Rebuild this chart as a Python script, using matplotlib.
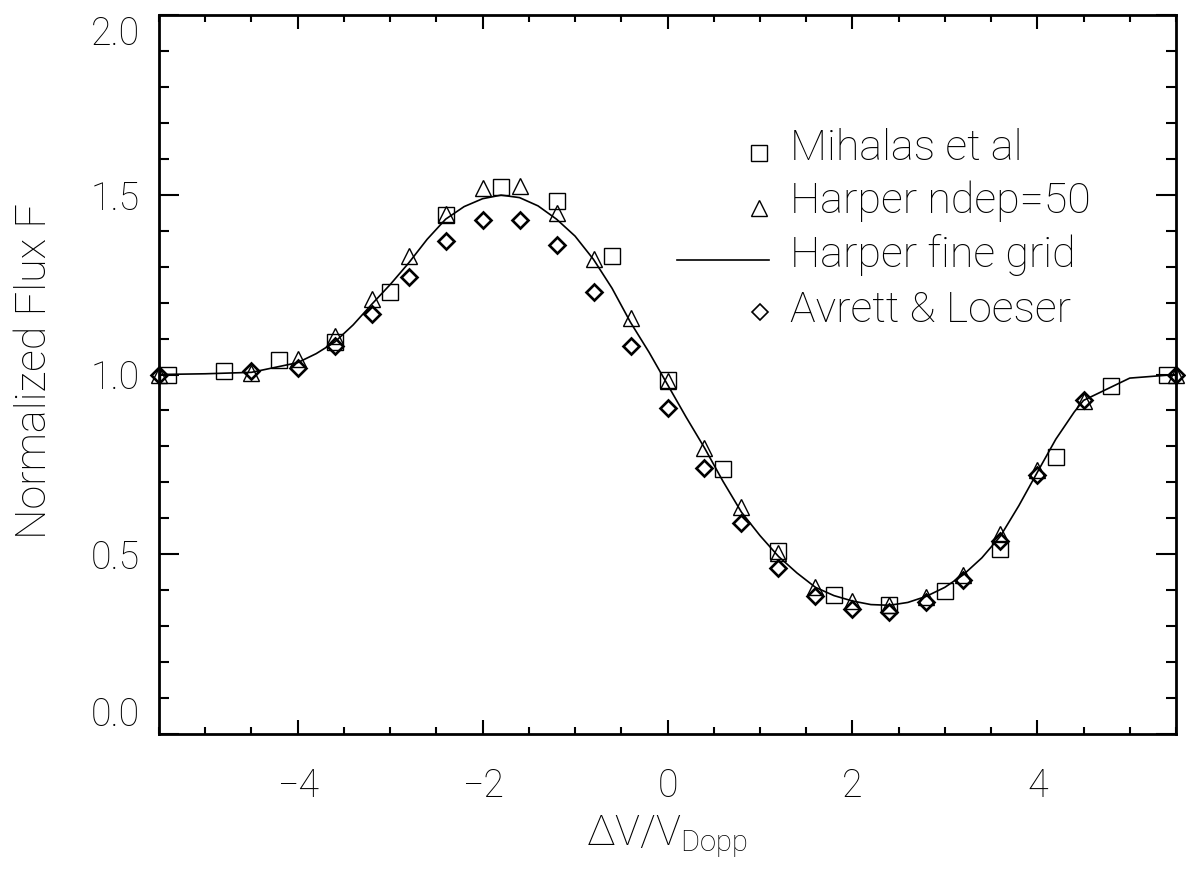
import matplotlib
matplotlib.use("Agg")
import matplotlib.pyplot as plt
from matplotlib.ticker import MultipleLocator

# Mihalas et al (squares)
mihalas_x = [-5.4, -4.8, -4.2, -3.6, -3.0, -2.4, -1.8, -1.2, -0.6, 0.0,
             0.6, 1.2, 1.8, 2.4, 3.0, 3.6, 4.2, 4.8, 5.4]
mihalas_f = [1.000, 1.009, 1.040, 1.090, 1.230, 1.443, 1.522, 1.483, 1.330, 0.986,
             0.738, 0.508, 0.387, 0.359, 0.398, 0.515, 0.770, 0.969, 1.000]

# Harper, ndep=50 (triangles) and Avrett & Loeser (diamonds) share one grid
grid_x = [-5.5, -4.5, -4.0, -3.6, -3.2, -2.8, -2.4, -2.0, -1.6, -1.2, -0.8, -0.4,
          0.0, 0.4, 0.8, 1.2, 1.6, 2.0, 2.4, 2.8, 3.2, 3.6, 4.0, 4.5, 5.5]
harper50_f = [1.000, 1.005, 1.042, 1.107, 1.209, 1.329, 1.446, 1.520, 1.523, 1.450,
              1.320, 1.158, 0.981, 0.796, 0.631, 0.503, 0.410, 0.369, 0.359, 0.382,
              0.443, 0.557, 0.735, 0.926, 1.000]
avrett_f = [1.000, 1.009, 1.019, 1.079, 1.169, 1.270, 1.370, 1.430, 1.430, 1.360,
            1.230, 1.079, 0.907, 0.740, 0.587, 0.463, 0.384, 0.347, 0.338, 0.366,
            0.429, 0.538, 0.720, 0.928, 1.000]

# Harper fine grid (solid curve)
fine_x = [-5.5, -5.0, -4.5, -4.0, -3.8, -3.6, -3.4, -3.2, -3.0, -2.8, -2.6, -2.4,
          -2.2, -2.0, -1.8, -1.6, -1.4, -1.2, -1.0, -0.8, -0.6, -0.4, -0.2, 0.0,
          0.2, 0.4, 0.6, 0.8, 1.0, 1.2, 1.4, 1.6, 1.8, 2.0, 2.2, 2.4, 2.6, 2.8,
          3.0, 3.2, 3.4, 3.6, 3.8, 4.0, 4.2, 4.4, 4.5, 5.0, 5.5]
fine_f = [1.000, 1.002, 1.006, 1.033, 1.058, 1.090, 1.138, 1.195, 1.250, 1.310,
          1.376, 1.432, 1.467, 1.489, 1.499, 1.492, 1.469, 1.432, 1.385, 1.320,
          1.240, 1.145, 1.062, 0.972, 0.882, 0.796, 0.703, 0.617, 0.552, 0.494,
          0.448, 0.408, 0.385, 0.370, 0.360, 0.358, 0.366, 0.383, 0.408, 0.443,
          0.490, 0.550, 0.635, 0.728, 0.820, 0.896, 0.928, 0.990, 1.000]

x_ticks = [-4, -2, 0, 2, 4]
y_ticks = [0.0, 0.5, 1.0, 1.5, 2.0]
y_ticklabels = ["0.0", "0.5", "1.0", "1.5", "2.0"]

legend_labels = ["Mihalas et al", "Harper ndep=50", "Harper fine grid", "Avrett & Loeser"]

FONT = "Roboto"
plt.rcParams["font.family"] = [FONT, "DejaVu Sans"]
plt.rcParams["font.weight"] = "light"

fig = plt.figure(figsize=(11.86, 8.69), dpi=100)
ax = fig.add_axes([159 / 1186, 1 - 734 / 869, 1017 / 1186, 719 / 869])

sq_style = dict(marker="s", ms=12, mfc="none", mec="black", mew=1.0, ls="none")
tri_style = dict(marker="^", ms=12, mfc="none", mec="black", mew=1.0, ls="none")
dia_style = dict(marker="D", ms=8.5, mfc="none", mec="black", mew=1.9, ls="none")

ax.plot(fine_x, fine_f, color="black", lw=1.2, zorder=2)
ax.plot(mihalas_x, mihalas_f, clip_on=False, zorder=3, **sq_style)
ax.plot(grid_x, harper50_f, clip_on=False, zorder=3, **tri_style)
ax.plot(grid_x, avrett_f, clip_on=False, zorder=3, **dia_style)

ax.set_xlim(-5.5, 5.5)
ax.set_ylim(0.0, 2.0)
ax.set_xticks(x_ticks)
ax.set_yticks(y_ticks)
ax.set_yticklabels(y_ticklabels)
ax.xaxis.set_minor_locator(MultipleLocator(0.5))
ax.yaxis.set_minor_locator(MultipleLocator(0.1))

for s in ax.spines.values():
    s.set_linewidth(2.0)

ax.tick_params(which="both", direction="in", top=True, right=True, width=1.5,
               labelsize=27, colors="black")
ax.tick_params(axis="x", which="major", length=10, pad=24)
ax.tick_params(axis="x", which="minor", length=5)
ax.tick_params(axis="y", which="major", length=14.5, pad=14)
ax.tick_params(axis="y", which="minor", length=7.5)

# end labels of the y axis sit inside the frame
yt = ax.yaxis.get_major_ticks()
yt[0].label1.set_verticalalignment("bottom")
yt[-1].label1.set_verticalalignment("top")

# axis titles
fig.text(35 / 1186, 1 - 371 / 869, "Normalized Flux F", rotation=90,
         ha="center", va="center", fontsize=31)
fig.text(667 / 1186, 1 - 845 / 869, r"$\mathregular{\Delta V/V_{Dopp}}$",
         ha="center", va="baseline", fontsize=30)

# key, upper right
tr = ax.transAxes
def ax_pt(px, py):
    return (px - 159) / 1017, (734 - py) / 719

lg_sq = dict(sq_style, mew=1.0)
lg_tri = dict(tri_style, mew=1.0)
lg_dia = dict(dia_style, mew=1.2)

mx, my = ax_pt(759, 152.7)
ax.plot([mx], [my], transform=tr, clip_on=False, **lg_sq)
mx, my = ax_pt(759, 208.3)
ax.plot([mx], [my], transform=tr, clip_on=False, **lg_tri)
x0, ly = ax_pt(677, 260)
x1, _ = ax_pt(769, 260)
ax.plot([x0, x1], [ly, ly], transform=tr, color="black", lw=1.2, clip_on=False)
mx, my = ax_pt(760, 311.7)
ax.plot([mx], [my], transform=tr, clip_on=False, **lg_dia)

for label, base in zip(legend_labels, [160, 213.3, 266.7, 321.7]):
    tx, ty = ax_pt(790, base)
    ax.text(tx, ty, label, transform=tr, ha="left", va="baseline", fontsize=31)

fig.savefig("out.png", dpi=100)
